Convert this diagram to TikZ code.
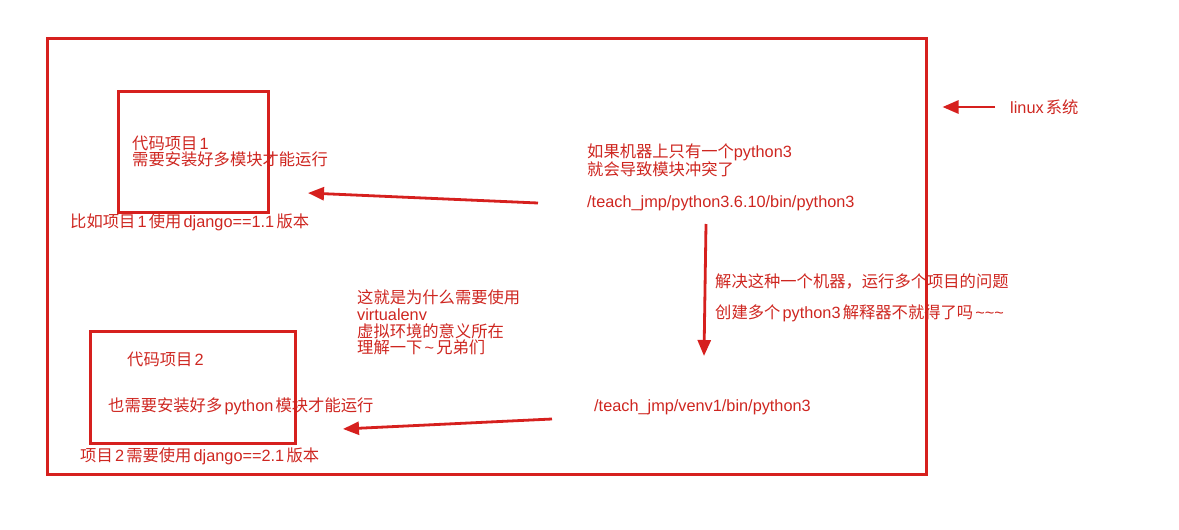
\documentclass[tikz,border=0pt]{standalone}
\usepackage{fontspec}
\setmainfont{Liberation Sans}
\newfontfamily\cjk{Noto Sans CJK SC}
\newcommand{\zh}[1]{{\cjk #1}}
\newcommand{\gp}{\hspace{2.2pt}}
\usetikzlibrary{arrows.meta}
\definecolor{boxred}{RGB}{214,32,30}
\definecolor{textred}{RGB}{206,38,32}
\tikzset{
  frame/.style={draw=boxred, line width=3pt, minimum width=#1},
  note/.style={text=textred, anchor=west, inner sep=0pt, align=left,
    font=\fontsize{16.3}{16.8}\selectfont},
  arr/.style={draw=boxred, line width=2.8pt, -{Triangle[length=16pt,width=13pt]}}
}
\begin{document}
\begin{tikzpicture}[x=1pt,y=-1pt]
\useasboundingbox (0,0) rectangle (1179,530);
\node[frame=879pt, minimum height=436pt] (sys) at (486.5,256) {};
\node[frame=150pt, minimum height=121pt] (box1) at (193,151.5) {};
\node[frame=205pt, minimum height=112pt] (box2) at (192.5,387) {};
\node[note] (p1) at (132,151.5) {\zh{代码项目}\gp 1\\\zh{需要安装好多模块才能运行}};
\node[note] (p1ver) at (70,222) {\zh{比如项目}\gp 1\gp\zh{使用}\gp django==1.1\gp\zh{版本}};
\node[note] (p2) at (127,359) {\zh{代码项目}\gp 2};
\node[note] (p2mod) at (108,406) {\zh{也需要安装好多}\gp python\gp\zh{模块才能运行}};
\node[note] (p2ver) at (80,456) {\zh{项目}\gp 2\gp\zh{需要使用}\gp django==2.1\gp\zh{版本}};
\node[note] (conflict) at (587,160) {\zh{如果机器上只有一个}python3\\\zh{就会导致模块冲突了}};
\node[note] (py36) at (587,203) {/teach\_jmp/python3.6.10/bin/python3};
\node[note] (solve) at (715,281) {\zh{解决这种一个机器，运行多个项目的问题}};
\node[note] (create) at (715,313) {\zh{创建多个}\gp python3\gp\zh{解释器不就得了吗}\gp\textasciitilde\textasciitilde\textasciitilde};
\node[note] (why) at (357,322.5) {\zh{这就是为什么需要使用}\\virtualenv\\\zh{虚拟环境的意义所在}\\\zh{理解一下}\gp\textasciitilde\gp\zh{兄弟们}};
\node[note] (venv) at (594,407) {/teach\_jmp/venv1/bin/python3};
\node[note] (linux) at (1010,107) {linux\gp\zh{系统}};
\coordinate (a1s) at (538,203);
\coordinate (a1e) at (308,193);
\coordinate (a2s) at (706,224);
\coordinate (a2e) at (704,356);
\coordinate (a3s) at (552,419);
\coordinate (a3e) at (343,429);
\draw[arr] (a1s) -- (a1e);
\draw[arr] (a2s) -- (a2e);
\draw[arr] (a3s) -- (a3e);
\draw[arr, shorten <=15pt, shorten >=15pt] (linux.west) -- (linux.west -| sys.east);
\end{tikzpicture}
\end{document}
